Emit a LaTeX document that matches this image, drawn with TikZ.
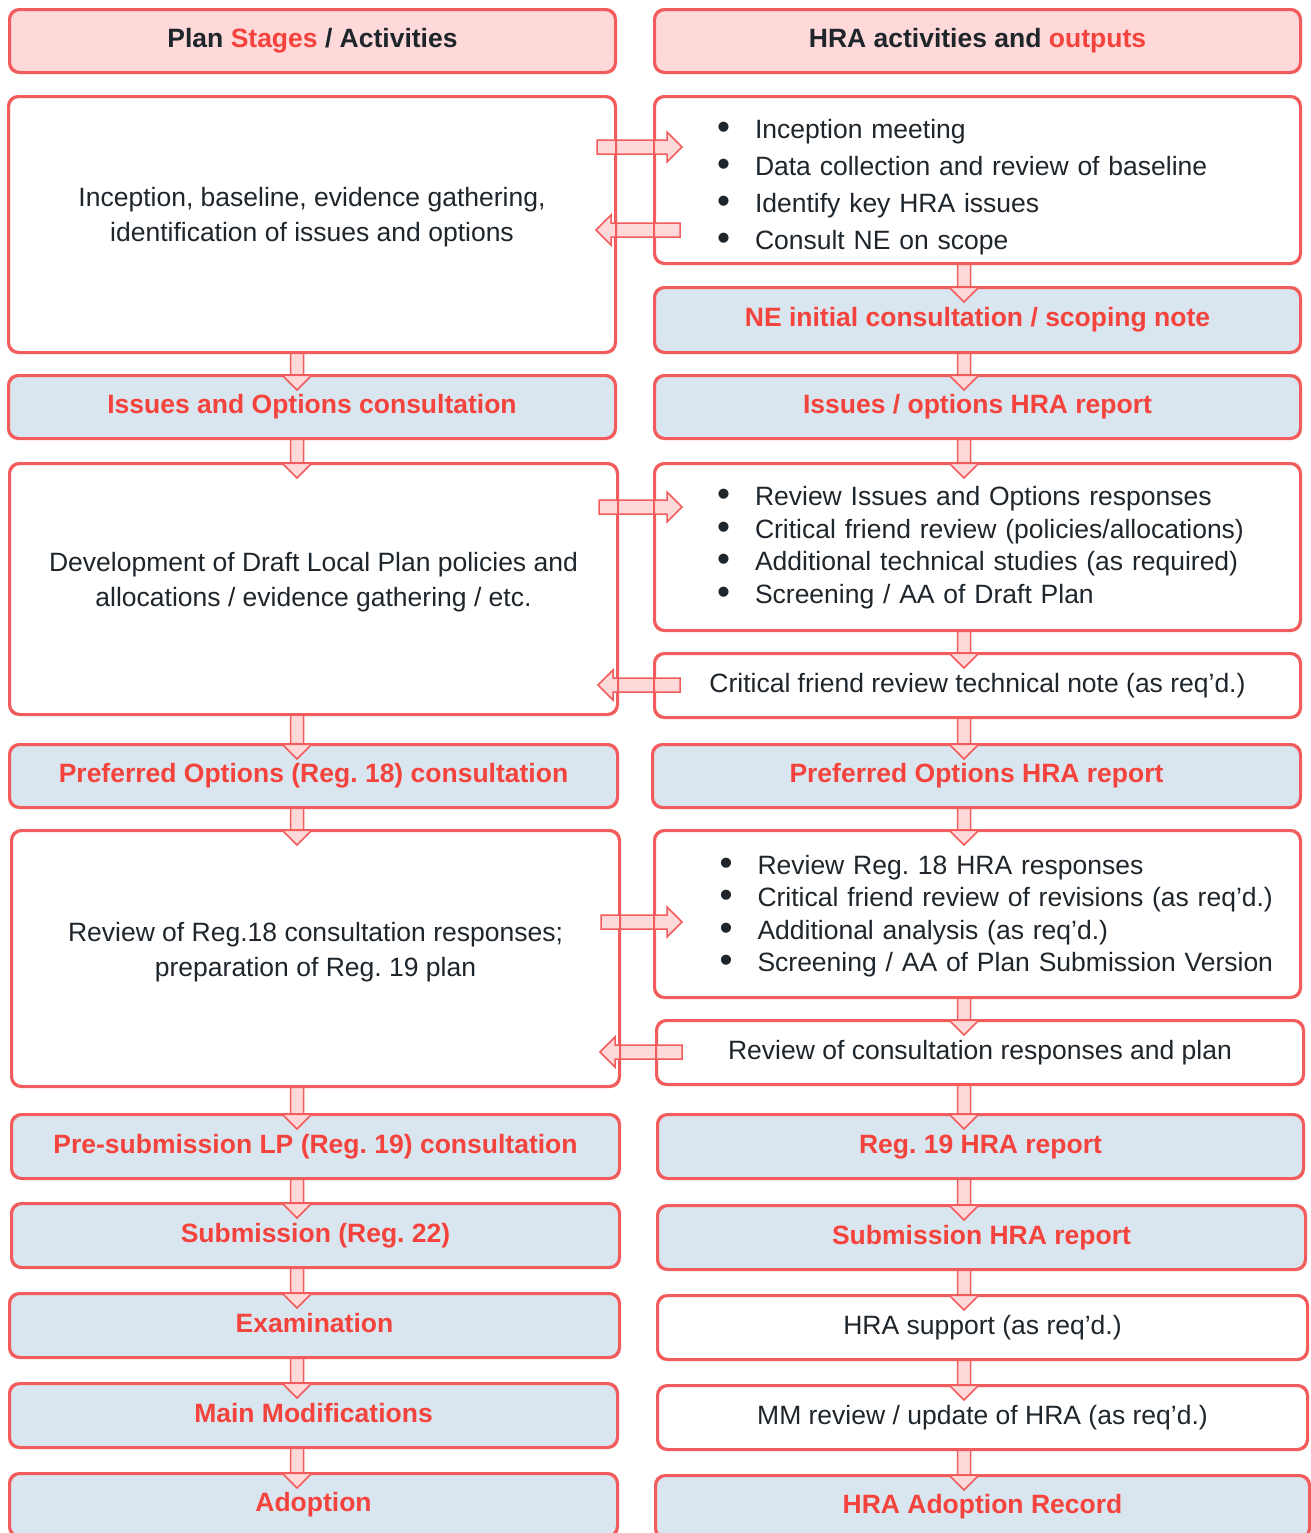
\documentclass[tikz,border=0pt]{standalone}
\usepackage{fontspec}
\usepackage{graphicx}
\setmainfont{Liberation Sans}
\usetikzlibrary{calc}
\frenchspacing
\definecolor{rline}{HTML}{F25C5C}
\definecolor{rtext}{HTML}{F4433C}
\definecolor{pinkf}{HTML}{FFD9D9}
\definecolor{bluef}{HTML}{D9E5EF}
\definecolor{dtext}{HTML}{1E252B}
\newcommand\fs{\fontsize{13.25}{17.5}\selectfont}
\newcommand\bul{\makebox[19pt][l]{\raisebox{-0.04em}{\scalebox{1.4}{•}}}}
\tikzset{
  box/.style={draw=rline, line width=1pt, rounded corners=5pt, fill=white, text=dtext, font=\fs, inner sep=0pt},
  one/.style={text height=9.5pt, text depth=2.8pt},
  hdr/.style={box, one, fill=pinkf, font=\fs\bfseries},
  stg/.style={box, one, fill=bluef, text=rtext, font=\fs\bfseries},
  wone/.style={box, one},
  lst/.style={box, align=left},
  txt/.style={align=center, font=\fs, text=dtext},
  barrow/.style={draw=rline, fill=pinkf, line width=0.75pt, line join=miter},
  bord/.style={draw=rline, line width=1pt, rounded corners=5pt},
}
% name, style, x1, y1, x2, y2, text (pixel coordinates)
\newcommand\bx[7]{\node[#2, minimum width={(#5-#3)*0.5pt}, minimum height={(#6-#4)*0.5pt}] (#1) at ({(#3+#5)/2},{(#4+#6)/2}) {#7};}
% down arrow: x(px), from node, to node
\newcommand\darr[3]{\draw[barrow] let \p1=(#2.south), \p2=(#3.north) in
  ({#1*0.5pt-3.25pt},{\y1}) -- ({#1*0.5pt-3.25pt},{\y2}) -- ({#1*0.5pt-7.5pt},{\y2}) --
  ({#1*0.5pt},{\y2-7.5pt}) -- ({#1*0.5pt+7.5pt},{\y2}) -- ({#1*0.5pt+3.25pt},{\y2}) --
  ({#1*0.5pt+3.25pt},{\y1}) -- cycle;}
% right arrow: y(px), from node (left), to node (right)
\newcommand\rarr[3]{\draw[barrow] let \p1=(#2.east), \p2=(#3.west) in
  ({\x1-9.5pt},{-#1*0.5pt+3.5pt}) -- ({\x2+6.5pt},{-#1*0.5pt+3.5pt}) -- ({\x2+6.5pt},{-#1*0.5pt+7.5pt}) --
  ({\x2+14pt},{-#1*0.5pt}) -- ({\x2+6.5pt},{-#1*0.5pt-7.5pt}) -- ({\x2+6.5pt},{-#1*0.5pt-3.5pt}) --
  ({\x1-9.5pt},{-#1*0.5pt-3.5pt}) -- cycle;}
% left arrow: y(px), from node (right), to node (left)
\newcommand\larr[3]{\draw[barrow] let \p1=(#2.west), \p2=(#3.east) in
  ({\x1+13pt},{-#1*0.5pt+3.5pt}) -- ({\x2-2.5pt},{-#1*0.5pt+3.5pt}) -- ({\x2-2.5pt},{-#1*0.5pt+7.5pt}) --
  ({\x2-10pt},{-#1*0.5pt}) -- ({\x2-2.5pt},{-#1*0.5pt-7.5pt}) -- ({\x2-2.5pt},{-#1*0.5pt-3.5pt}) --
  ({\x1+13pt},{-#1*0.5pt-3.5pt}) -- cycle;}
\begin{document}
\begin{tikzpicture}[x=0.5pt, y=-0.5pt]
\useasboundingbox (0,0) rectangle (1311,1533);
% headers
\bx{HL}{hdr}{10}{10}{615}{72}{Plan \textcolor{rtext}{Stages} / Activities}
\bx{HR}{hdr}{655}{10}{1300}{72}{HRA activities and \textcolor{rtext}{outputs}}
% left column
\bx{L1}{box, label={[txt, yshift=3.75pt]center:Inception, baseline, evidence gathering,\\identification of issues and options}}{9}{97}{615}{352}{}
\bx{L2}{stg}{9}{376}{615}{438}{Issues and Options consultation}
\bx{L3}{box, label={[txt, yshift=3.5pt]center:Development of Draft Local Plan policies and\\allocations / evidence gathering / etc.}}{10}{464}{617}{714}{}
\bx{L4}{stg}{10}{745}{617}{807}{Preferred Options (Reg. 18) consultation}
\bx{L5}{box, label={[txt, yshift=3.25pt]center:Review of Reg.18 consultation responses;\\preparation of Reg. 19 plan}}{12}{831}{619}{1086}{}
\bx{L6}{stg}{12}{1115}{619}{1178}{Pre-submission LP (Reg. 19) consultation}
\bx{L7}{stg}{12}{1204}{619}{1267}{Submission (Reg. 22)}
\bx{L8}{stg}{10}{1294}{619}{1357}{Examination}
\bx{L9}{stg}{10}{1384}{617}{1447}{Main Modifications}
\bx{L10}{stg}{10}{1474}{617}{1536}{Adoption}
% right column
\bx{R1}{lst, text width=260.5pt}{655}{97}{1300}{263}{\fontsize{13.25}{18.5}\selectfont\raisebox{-3.5pt}[\height][\depth]{\begin{tabular}{@{}l@{}}\bul Inception meeting\\\bul Data collection and review of baseline\\\bul Identify key HRA issues\\\bul Consult NE on scope\end{tabular}}}
\bx{R2}{stg}{655}{288}{1300}{352}{NE initial consultation / scoping note}
\bx{R3}{stg}{655}{376}{1300}{438}{Issues / options HRA report}
\bx{R4}{lst, text width=260.5pt}{655}{464}{1300}{630}{\fontsize{13.25}{16.2}\selectfont\raisebox{-0.5pt}[\height][\depth]{\begin{tabular}{@{}l@{}}\bul Review Issues and Options responses\\\bul Critical friend review (policies/allocations)\\\bul Additional technical studies (as required)\\\bul Screening / AA of Draft Plan\end{tabular}}}
\bx{R5}{wone}{655}{654}{1300}{717}{Critical friend review technical note (as req’d.)}
\bx{R6}{stg}{653}{745}{1300}{807}{Preferred Options HRA report}
\bx{R7}{lst, text width=258pt}{655}{831}{1300}{997}{\fontsize{13.25}{16.2}\selectfont\raisebox{-1.25pt}[\height][\depth]{\begin{tabular}{@{}l@{}}\bul Review Reg. 18 HRA responses\\\bul Critical friend review of revisions (as req’d.)\\\bul Additional analysis (as req’d.)\\\bul Screening / AA of Plan Submission Version\end{tabular}}}
\bx{R8}{wone}{657}{1021}{1303}{1084}{Review of consultation responses and plan}
\bx{R9}{stg}{658}{1115}{1303}{1178}{Reg. 19 HRA report}
\bx{R10}{stg}{658}{1206}{1305}{1269}{Submission HRA report}
\bx{R11}{wone}{658}{1296}{1307}{1359}{HRA support (as req’d.)}
\bx{R12}{wone}{658}{1386}{1307}{1449}{MM review / update of HRA (as req’d.)}
\bx{R13}{stg}{656}{1476}{1309}{1538}{HRA Adoption Record}
% arrows
\darr{297}{L1}{L2}\darr{297}{L2}{L3}\darr{297}{L3}{L4}\darr{297}{L4}{L5}\darr{297}{L5}{L6}
\darr{297}{L6}{L7}\darr{297}{L7}{L8}\darr{297}{L8}{L9}\darr{297}{L9}{L10}
\darr{964}{R1}{R2}\darr{964}{R2}{R3}\darr{964}{R3}{R4}\darr{964}{R4}{R5}\darr{964}{R5}{R6}
\darr{964}{R6}{R7}\darr{964}{R7}{R8}\darr{964}{R8}{R9}\darr{964}{R9}{R10}\darr{964}{R10}{R11}
\darr{964}{R11}{R12}\darr{964}{R12}{R13}
\rarr{147}{L1}{R1}\larr{230}{R1}{L1}
\rarr{507}{L3}{R4}\larr{685}{R5}{L3}
\rarr{922}{L5}{R7}\larr{1052}{R8}{L5}
% borders over arrows
\foreach \n in {HL,HR,L1,L2,L3,L4,L5,L6,L7,L8,L9,L10,R1,R2,R3,R4,R5,R6,R7,R8,R9,R10,R11,R12,R13}
  \draw[bord] (\n.south west) rectangle (\n.north east);
\end{tikzpicture}
\end{document}
